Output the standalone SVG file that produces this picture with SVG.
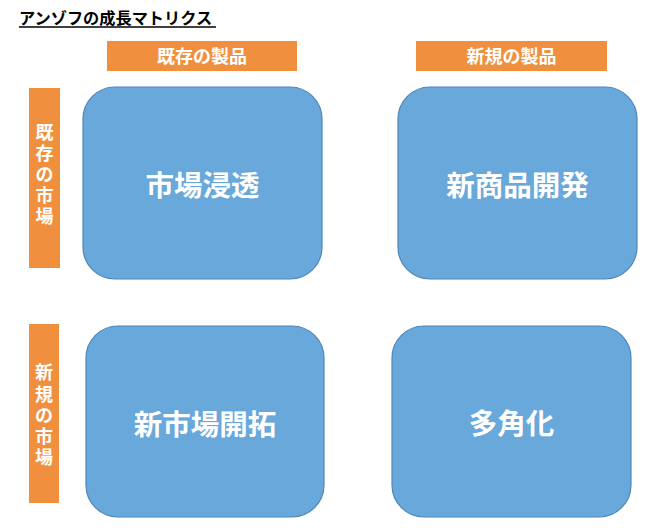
<svg xmlns="http://www.w3.org/2000/svg" width="664" height="532" viewBox="0 0 664 532">
<style>
.hdr{fill:#F0903E;}
.box{fill:#69A8DA;stroke:#4F86B8;stroke-width:1.2;}
.t{font-family:"Noto Sans CJK JP","Noto Sans CJK SC",sans-serif;font-weight:bold;fill:#FFFFFF;text-anchor:middle;}
.big{font-size:28.5px;}
.mid{font-size:18px;}
.vert{font-size:18px;}
.title{font-family:"Noto Sans CJK JP",sans-serif;font-weight:bold;font-size:16.2px;fill:#000000;}
</style>
<rect width="664" height="532" fill="#FFFFFF"/>
<g id="title">
<text class="title" x="19" y="23.5">アンゾフの成長マトリクス</text>
<line x1="19" y1="27" x2="216" y2="27" stroke="#000" stroke-width="1.3"/>
</g>
<g id="col-existing-product">
<rect class="hdr" x="107" y="41" width="190" height="30"/>
<text class="t mid" x="202" y="63">既存の製品</text>
</g>
<g id="col-new-product">
<rect class="hdr" x="416" y="41" width="191" height="30"/>
<text class="t mid" x="511.5" y="63">新規の製品</text>
</g>
<g id="row-existing-market">
<rect class="hdr" x="29" y="88" width="31" height="180"/>
<text class="t vert" x="44.5" y="139">既</text>
<text class="t vert" x="44.5" y="159.5">存</text>
<text class="t vert" x="44.5" y="181">の</text>
<text class="t vert" x="44.5" y="201.5">市</text>
<text class="t vert" x="44.5" y="223">場</text>
</g>
<g id="row-new-market">
<rect class="hdr" x="29" y="324" width="30" height="179"/>
<text class="t vert" x="44" y="379">新</text>
<text class="t vert" x="44" y="401">規</text>
<text class="t vert" x="44" y="422">の</text>
<text class="t vert" x="44" y="443">市</text>
<text class="t vert" x="44" y="464">場</text>
</g>
<g id="market-penetration">
<rect class="box" x="83" y="87" width="239" height="192" rx="32" ry="32"/>
<text class="t big" x="202.5" y="196">市場浸透</text>
</g>
<g id="product-development">
<rect class="box" x="398" y="87" width="239" height="192" rx="32" ry="32"/>
<text class="t big" x="517.5" y="196">新商品開発</text>
</g>
<g id="market-development">
<rect class="box" x="86" y="326" width="238" height="191" rx="32" ry="32"/>
<text class="t big" x="205" y="435">新市場開拓</text>
</g>
<g id="diversification">
<rect class="box" x="392" y="326" width="239" height="191" rx="32" ry="32"/>
<text class="t big" x="511.5" y="434">多角化</text>
</g>
<g id="connectors"></g>
</svg>
